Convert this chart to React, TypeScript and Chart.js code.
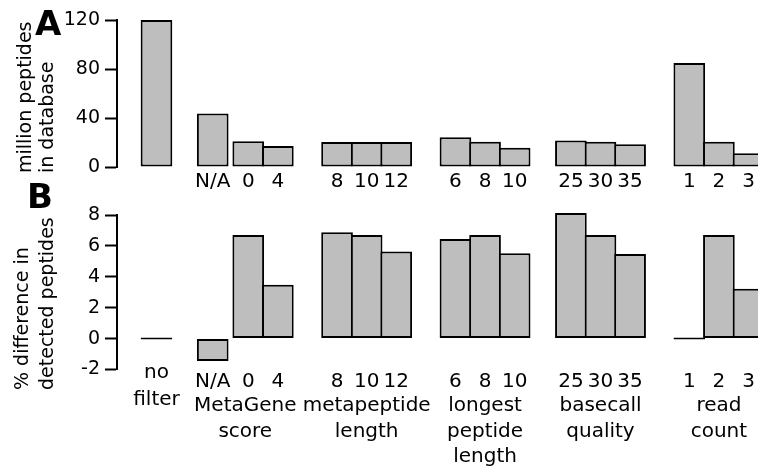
import { useEffect, useRef } from "react";
import { Chart, registerables } from "chart.js";

Chart.register(...registerables);

// ---------------- data ----------------
const groupNames = [
  "no filter",
  "MetaGene score",
  "metapeptide length",
  "longest peptide length",
  "basecall quality",
  "read count",
];
const barLabels = [
  [""],
  ["N/A", "0", "4"],
  ["8", "10", "12"],
  ["6", "8", "10"],
  ["25", "30", "35"],
  ["1", "2", "3"],
];
const millionPeptidesInDatabase = [
  [120],
  [43.7, 21.0, 17.2],
  [20.5, 20.5, 20.5],
  [24.3, 20.7, 15.8],
  [21.6, 20.7, 18.6],
  [84.8, 20.7, 11.2],
];
const pctDifferenceDetected = [
  [0],
  [-1.45, 6.7, 3.48],
  [6.88, 6.7, 5.64],
  [6.44, 6.7, 5.53],
  [8.13, 6.7, 5.47],
  [0, 6.7, 3.22],
];
const topTitleLines = ["million peptides", "in database"];
const bottomTitleLines = ["% difference in", "detected peptides"];
const DB_MIN = 0;
const DB_MAX = 120;
const DB_STEP = 20;
const DB_LABEL_STEP = 40;
const DIFF_MIN = -2;
const DIFF_MAX = 8;
const DIFF_STEP = 2;

// ---------------- layout / style ----------------
// space before each bar, in bar widths (like R barplot "space")
const barSpace = [[0], [0.9, 0.2, 0], [1, 0, 0], [1, 0, 0], [0.9, 0, 0], [1, 0, 0]];
const W = 758;
const H = 468;
const FONT = "'DejaVu Sans', sans-serif";
const FS_AXIS = 19;
const FS_LABEL = 20;
const BAR_FILL = "#bebebe";
const Y_AXIS_W = 117;
const X_LEFT_PAD = 1.334;
const X_RIGHT_PAD = 0.321;

const flatten = <T,>(a: T[][]): T[] => a.reduce((acc, g) => acc.concat(g), [] as T[]);
const positions: number[] = (() => {
  let x = -1;
  const out: number[] = [];
  barSpace.forEach((g) => g.forEach((s) => { x += 1 + s; out.push(x); }));
  return out;
})();
const flatLabels = flatten(barLabels);
const groupOfBar = flatten(barLabels.map((g, gi) => g.map(() => gi)));

function drawRotated(ctx: CanvasRenderingContext2D, lines: string[], xs: number[], startY: number) {
  lines.forEach((t, i) => {
    ctx.save();
    ctx.translate(xs[i], startY);
    ctx.rotate(-Math.PI / 2);
    ctx.textAlign = "left";
    ctx.textBaseline = "alphabetic";
    ctx.fillText(t, 0, 0);
    ctx.restore();
  });
}

function makeConfig(
  values: number[],
  y: { min: number; max: number; step: number; labelStep: number },
  padTop: number,
  plotBottom: number,
  labelPad: number,
  minBarLength: number,
  plugin: any
): any {
  return {
    type: "bar",
    data: {
      datasets: [
        {
          data: values.map((v, i) => ({ x: positions[i], y: v })),
          backgroundColor: BAR_FILL,
          borderColor: "#000",
          borderWidth: 2,
          borderSkipped: false,
          categoryPercentage: 1,
          barPercentage: 1.07,
          minBarLength,
          clip: false,
        },
      ],
    },
    options: {
      responsive: false,
      animation: false,
      devicePixelRatio: 1,
      layout: { padding: { top: padTop, left: 0, right: 0, bottom: 0 } },
      plugins: { legend: { display: false }, tooltip: { enabled: false } },
      scales: {
        x: {
          type: "linear",
          offset: false,
          min: positions[0] - X_LEFT_PAD,
          max: positions[positions.length - 1] + X_RIGHT_PAD,
          afterBuildTicks: (s: any) => {
            s.ticks = positions.map((v) => ({ value: v }));
          },
          afterFit: (s: any) => {
            s.height = H - plotBottom;
            s.paddingLeft = 0;
            s.paddingRight = 0;
          },
          grid: { display: false, drawTicks: false },
          border: { display: false },
          ticks: {
            autoSkip: false,
            maxRotation: 0,
            minRotation: 0,
            padding: labelPad,
            color: "#000",
            font: { family: FONT, size: FS_LABEL, lineHeight: 1.2 },
            callback: (_v: any, i: number) => flatLabels[i],
          },
        },
        y: {
          min: y.min,
          max: y.max,
          afterFit: (s: any) => {
            s.width = Y_AXIS_W;
            s.paddingTop = 0;
            s.paddingBottom = 0;
          },
          grid: {
            display: true,
            drawOnChartArea: false,
            drawTicks: true,
            tickLength: 12,
            tickWidth: 2,
            tickColor: "#000",
          },
          border: { display: true, color: "#000", width: 2 },
          ticks: {
            stepSize: y.step,
            padding: 5,
            color: "#000",
            font: { family: FONT, size: FS_AXIS },
            callback: (v: any) => (Math.round(v) % y.labelStep === 0 ? String(v) : ""),
          },
        },
      },
    },
    plugins: [plugin],
  };
}

const topPlugin = {
  id: "topText",
  afterDraw(chart: any) {
    const ctx: CanvasRenderingContext2D = chart.ctx;
    ctx.save();
    ctx.fillStyle = "#000";
    ctx.font = `bold 34px ${FONT}`;
    ctx.textAlign = "left";
    ctx.textBaseline = "alphabetic";
    ctx.fillText("A", 35, 35);
    ctx.font = `${FS_AXIS}px ${FONT}`;
    drawRotated(ctx, topTitleLines, [31, 52.5], 173);
    ctx.restore();
  },
};

const bottomPlugin = {
  id: "bottomText",
  afterDraw(chart: any) {
    const ctx: CanvasRenderingContext2D = chart.ctx;
    const xs = chart.scales.x;
    ctx.save();
    ctx.fillStyle = "#000";
    ctx.font = `bold 34px ${FONT}`;
    ctx.textAlign = "left";
    ctx.textBaseline = "alphabetic";
    ctx.fillText("B", 27, 208);
    ctx.font = `${FS_AXIS}px ${FONT}`;
    drawRotated(ctx, bottomTitleLines, [27.7, 52.7], 390);
    ctx.font = `${FS_LABEL}px ${FONT}`;
    ctx.textAlign = "center";
    groupNames.forEach((name, gi) => {
      const px = positions
        .filter((_p, i) => groupOfBar[i] === gi)
        .map((p) => xs.getPixelForValue(p));
      const cx = (Math.min(...px) + Math.max(...px)) / 2;
      const unlabeled = barLabels[gi].every((l) => l === "");
      const y0 = unlabeled ? 378 : 411;
      const lh = unlabeled ? 27 : 25.5;
      name.split(" ").forEach((ln, k) => ctx.fillText(ln, cx, y0 + k * lh));
    });
    ctx.restore();
  },
};

export default function App() {
  const topRef = useRef<HTMLCanvasElement>(null);
  const botRef = useRef<HTMLCanvasElement>(null);
  useEffect(() => {
    const c1 = new Chart(
      topRef.current!,
      makeConfig(
        flatten(millionPeptidesInDatabase),
        { min: DB_MIN, max: DB_MAX, step: DB_STEP, labelStep: DB_LABEL_STEP },
        20,
        167,
        3,
        0,
        topPlugin
      )
    );
    const c2 = new Chart(
      botRef.current!,
      makeConfig(
        flatten(pctDifferenceDetected),
        { min: DIFF_MIN, max: DIFF_MAX, step: DIFF_STEP, labelStep: DIFF_STEP },
        215,
        369.5,
        0,
        2,
        bottomPlugin
      )
    );
    return () => {
      c1.destroy();
      c2.destroy();
    };
  }, []);
  const cs: any = { position: "absolute", left: 0, top: 0, width: W, height: H };
  return (
    <div style={{ position: "absolute", left: 0, top: 0, width: W, height: H, overflow: "hidden", background: "#fff" }}>
      <canvas ref={topRef} width={W} height={H} style={cs} />
      <canvas ref={botRef} width={W} height={H} style={cs} />
    </div>
  );
}
